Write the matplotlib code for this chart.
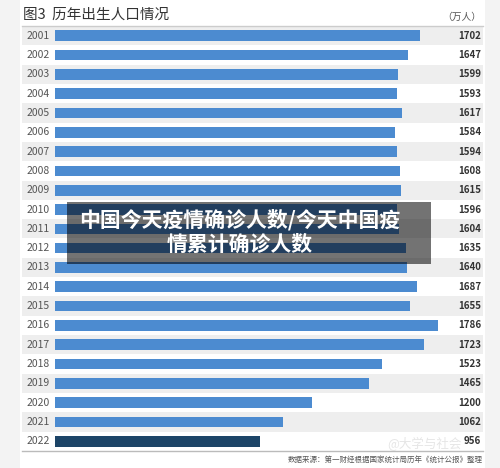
"""
图3 历年出生人口情况 - horizontal bar chart of annual births (10k people).
"""

import matplotlib.pyplot as plt
from matplotlib.patches import Rectangle
from matplotlib.transforms import blended_transform_factory

plt.rcParams["font.family"] = ["Noto Sans CJK SC", "DejaVu Sans"]

YEARS = [str(y) for y in range(2001, 2023)]
BIRTHS = [1702, 1647, 1599, 1593, 1617, 1584, 1594, 1608, 1615, 1596, 1604,
          1635, 1640, 1687, 1655, 1786, 1723, 1523, 1465, 1200, 1062, 956]

TITLE = "图3  历年出生人口情况"
UNIT = "（万人）"
SOURCE = "数据来源：第一财经根据国家统计局历年《统计公报》整理"
OVERLAY = "中国今天疫情确诊人数/今天中国疫\n情累计确诊人数"

W, H = 500, 468
BAR_BLUE = "#4c8bd0"
BAR_DARK = "#1c4467"
BAND = "#eeeeee"


def px(x, y):
    """Pixel coords (top-left origin) to figure fraction."""
    return x / W, 1 - y / H


def main() -> None:
    fig = plt.figure(figsize=(W / 100, H / 100), dpi=100)
    fig.patch.set_facecolor("#f3f3f3")

    # white card behind everything
    fig.patches.append(Rectangle(px(20, 468), 465 / W, 1, transform=fig.transFigure,
                                 facecolor="white", edgecolor="none", zorder=-10))

    # main axes: left edge 22px, right 483px, top 26px, bottom 451px
    left, top, right, bottom = 22, 26, 483, 451
    ax = fig.add_axes([left / W, 1 - bottom / H, (right - left) / W, (bottom - top) / H])
    ax.set_facecolor("none")
    k = 4.664  # data units per pixel
    ax.set_xlim(-(55 - left) * k, (right - 55) * k)
    ax.set_ylim(len(YEARS) - 0.5, -0.5)
    for s in ax.spines.values():
        s.set_visible(False)
    ax.set_xticks([])
    ax.set_yticks([])

    for i in range(0, len(YEARS), 2):
        ax.axhspan(i - 0.5, i + 0.5, color=BAND, zorder=0, lw=0)

    colors = [BAR_BLUE] * (len(YEARS) - 1) + [BAR_DARK]
    ax.barh(range(len(YEARS)), BIRTHS, height=0.55, color=colors, zorder=2)

    trans = blended_transform_factory(fig.transFigure, ax.transData)
    for i, (yr, v) in enumerate(zip(YEARS, BIRTHS)):
        ax.text(50 / W, i, yr, transform=trans, ha="right", va="center",
                fontsize=7.5, color="#555555", fontweight="light")
        ax.text(481 / W, i, str(v), transform=trans, ha="right", va="center",
                fontsize=7, color="#333333", fontweight="semibold")

    # header / footer rules
    fig.add_artist(plt.Line2D([left / W, right / W], [1 - top / H] * 2,
                              color="#cccccc", lw=1))
    fig.add_artist(plt.Line2D([left / W, right / W], [1 - bottom / H] * 2,
                              color="#bbbbbb", lw=1))

    fig.text(*px(23, 15), TITLE, fontsize=10.5, color="#333333", va="center", ha="left")
    fig.text(*px(481, 17), UNIT, fontsize=7, color="#555555", va="center", ha="right")
    fig.text(*px(483, 460), SOURCE, fontsize=5.4, color="#555555", va="center", ha="right")
    fig.text(*px(462, 444), "@大学与社会", fontsize=9, color="#d5d5d5", alpha=0.6,
             va="center", ha="right", zorder=5)

    # overlay caption box
    fig.patches.append(Rectangle(px(67, 264), (431 - 67) / W, 62 / H, transform=fig.transFigure,
                                 facecolor="black", alpha=0.55, edgecolor="none", zorder=10))
    fig.text(*px(240, 232), OVERLAY, fontsize=15, color="white", fontweight="bold",
             ha="center", va="center", linespacing=1.2, zorder=11)

    fig.savefig("out.png", dpi=100)
    plt.close(fig)


if __name__ == "__main__":
    main()
